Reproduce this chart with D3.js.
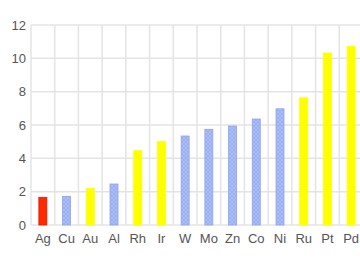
<!DOCTYPE html>
<html>
<head>
<meta charset="utf-8">
<script src="https://cdn.jsdelivr.net/npm/d3@7"></script>
<style>
  body { margin: 0; background: #fff; }
  text { font-family: "Liberation Sans", Arial, sans-serif; }
</style>
</head>
<body>
<svg width="360" height="265"></svg>
<script>
const metals = ["Ag", "Cu", "Au", "Al", "Rh", "Ir", "W", "Mo", "Zn", "Co", "Ni", "Ru", "Pt", "Pd"];
const values = [1.66, 1.72, 2.2, 2.46, 4.47, 5.0, 5.34, 5.74, 5.94, 6.36, 6.97, 7.63, 10.32, 10.73];
const kinds = ["red", "blue", "yellow", "blue", "yellow", "yellow", "blue", "blue", "blue", "blue", "blue", "yellow", "yellow", "yellow"];
const yTicks = [0, 2, 4, 6, 8, 10, 12];

const svg = d3.select("svg");
const margin = { left: 31, top: 25, right: -3, bottom: 40 };
const width = 360, height = 265;

const x = d3.scaleBand()
    .domain(metals)
    .range([margin.left, width - margin.right]);

const y = d3.scaleLinear()
    .domain([0, 12])
    .range([height - margin.bottom, margin.top]);

// crosshatch for the blue bars
const defs = svg.append("defs");
const pat = defs.append("pattern")
    .attr("id", "hatch")
    .attr("width", 4).attr("height", 4)
    .attr("patternUnits", "userSpaceOnUse");
pat.append("rect").attr("width", 4).attr("height", 4).attr("fill", "#abbdf6");
pat.append("path").attr("d", "M0,0 L4,4 M4,0 L0,4")
    .attr("stroke", "#98abef").attr("stroke-width", 0.8);

const fills = { red: "#ff2a00", blue: "url(#hatch)", yellow: "#ffff00" };
const strokes = { red: "#dd1a00", blue: "#8ea3ec", yellow: "#ffff00" };

// grid
svg.append("g")
    .selectAll("line")
    .data(yTicks)
    .join("line")
    .attr("x1", margin.left).attr("x2", width)
    .attr("y1", d => y(d)).attr("y2", d => y(d))
    .attr("stroke", "#e4e4e4").attr("stroke-width", 1.5);

svg.append("g")
    .selectAll("line")
    .data(metals)
    .join("line")
    .attr("x1", d => x(d)).attr("x2", d => x(d))
    .attr("y1", y(12)).attr("y2", y(0))
    .attr("stroke", "#e4e4e4").attr("stroke-width", 1.5);

// bars
svg.append("g")
    .selectAll("rect")
    .data(metals)
    .join("rect")
    .attr("x", d => x(d) + x.bandwidth() / 2 - 4)
    .attr("width", 8)
    .attr("y", (d, i) => y(values[i]))
    .attr("height", (d, i) => y(0) - y(values[i]))
    .attr("fill", (d, i) => fills[kinds[i]])
    .attr("stroke", (d, i) => strokes[kinds[i]])
    .attr("stroke-width", 0.8);

// y labels
svg.append("g")
    .selectAll("text")
    .data(yTicks)
    .join("text")
    .attr("x", 26)
    .attr("y", d => y(d) + 4.5)
    .attr("text-anchor", "end")
    .attr("font-size", 13)
    .attr("fill", "#555")
    .text(d => d);

// x labels
svg.append("g")
    .selectAll("text")
    .data(metals)
    .join("text")
    .attr("x", d => x(d) + x.bandwidth() / 2)
    .attr("y", 242.5)
    .attr("text-anchor", "middle")
    .attr("font-size", 13)
    .attr("fill", "#555")
    .text(d => d);
</script>
</body>
</html>
